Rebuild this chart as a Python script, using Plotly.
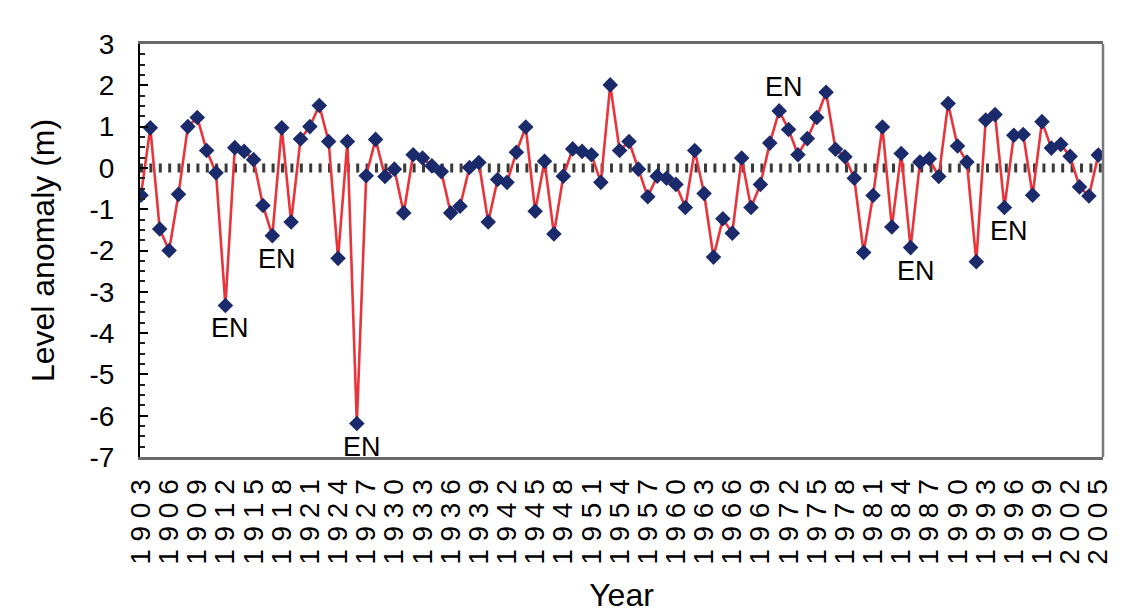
import plotly.graph_objects as go

years = list(range(1903, 2006))
anomaly = [
    -0.66, 0.97, -1.48, -2.00, -0.64, 1.00, 1.22, 0.42, -0.12, -3.33,   # 1903-1912
    0.49, 0.40, 0.20, -0.91, -1.64, 0.97, -1.31, 0.70, 1.00, 1.51,      # 1913-1922
    0.64, -2.19, 0.64, -6.19, -0.19, 0.69, -0.21, -0.03, -1.09, 0.32,   # 1923-1932
    0.24, 0.05, -0.09, -1.09, -0.93, 0.01, 0.13, -1.31, -0.28, -0.35,   # 1933-1942
    0.38, 0.99, -1.05, 0.16, -1.60, -0.20, 0.46, 0.40, 0.32, -0.35,     # 1943-1952
    2.01, 0.42, 0.64, -0.03, -0.70, -0.20, -0.25, -0.40, -0.96, 0.42,   # 1953-1962
    -0.62, -2.16, -1.23, -1.58, 0.24, -0.96, -0.40, 0.60, 1.38, 0.93,   # 1963-1972
    0.32, 0.71, 1.22, 1.83, 0.45, 0.27, -0.25, -2.05, -0.67, 0.99,      # 1973-1982
    -1.43, 0.35, -1.93, 0.14, 0.22, -0.21, 1.56, 0.53, 0.14, -2.27,     # 1983-1992
    1.16, 1.29, -0.96, 0.79, 0.81, -0.66, 1.12, 0.48, 0.57, 0.28,       # 1993-2002
    -0.46, -0.68, 0.31,                                                 # 2003-2005
]

tick_years = list(range(1903, 2006, 3))
tick_text = [" ".join(str(y)) for y in tick_years]

y_ticks = list(range(-7, 4))
y_tick_text = [str(v) for v in y_ticks]  # plain hyphen minus, as in the original

en_years = [1912, 1917, 1926, 1971, 1985, 1995]
en_above = [False, False, False, True, False, False]

FONT = "Liberation Sans, Arial, sans-serif"

fig = go.Figure()

# dashed zero reference line
fig.add_shape(type="line", xref="x domain", yref="y", x0=0, x1=1, y0=0, y1=0,
              line=dict(color="#3a3a3a", width=9, dash="3px,6.4px"), layer="below")

fig.add_trace(go.Scatter(
    x=years, y=anomaly, mode="lines+markers",
    line=dict(color="#e8343a", width=2.6),
    marker=dict(symbol="diamond", size=12, color="#1b2a6b",
                line=dict(width=0)),
    showlegend=False, hoverinfo="x+y",
))

for yr, above in zip(en_years, en_above):
    val = anomaly[years.index(yr)]
    fig.add_annotation(x=yr, y=val, text="EN", showarrow=False,
                       xshift=5, yshift=24 if above else -23,
                       font=dict(family=FONT, size=27, color="black"))

# right frame edge
fig.add_shape(type="line", xref="x domain", yref="y domain", x0=1, x1=1, y0=0, y1=1,
              line=dict(color="#7a7a7a", width=2.5))

fig.update_layout(
    width=1129, height=612,
    margin=dict(l=132, r=34, t=36, b=163),
    paper_bgcolor="white", plot_bgcolor="white",
    font=dict(family=FONT, color="black"),
    xaxis=dict(
        range=[1902.9, 2005.5],
        tickmode="array", tickvals=tick_years, ticktext=tick_text,
        tickangle=-90, tickfont=dict(size=28, family=FONT),
        ticks="", showgrid=False, zeroline=False,
        showline=True, linecolor="#6a6a6a", linewidth=3, mirror=True,
        ticklabelstandoff=8,
        title=dict(text="Year", font=dict(size=32, family=FONT), standoff=20),
    ),
    yaxis=dict(
        range=[-7, 3],
        tickmode="array", tickvals=y_ticks, ticktext=y_tick_text,
        tickfont=dict(size=28, family=FONT),
        ticks="inside", ticklen=8, tickwidth=2, tickcolor="black",
        minor=dict(ticks="inside", ticklen=5, tickwidth=1.5, tickcolor="#222",
                   dtick=0.25, showgrid=False),
        showgrid=False, zeroline=False,
        showline=True, linecolor="black", linewidth=2,
        ticklabelstandoff=18,
        title=dict(text="Level anomaly (m)", font=dict(size=32, family=FONT), standoff=25),
    ),
)

fig.write_html("out.html")
